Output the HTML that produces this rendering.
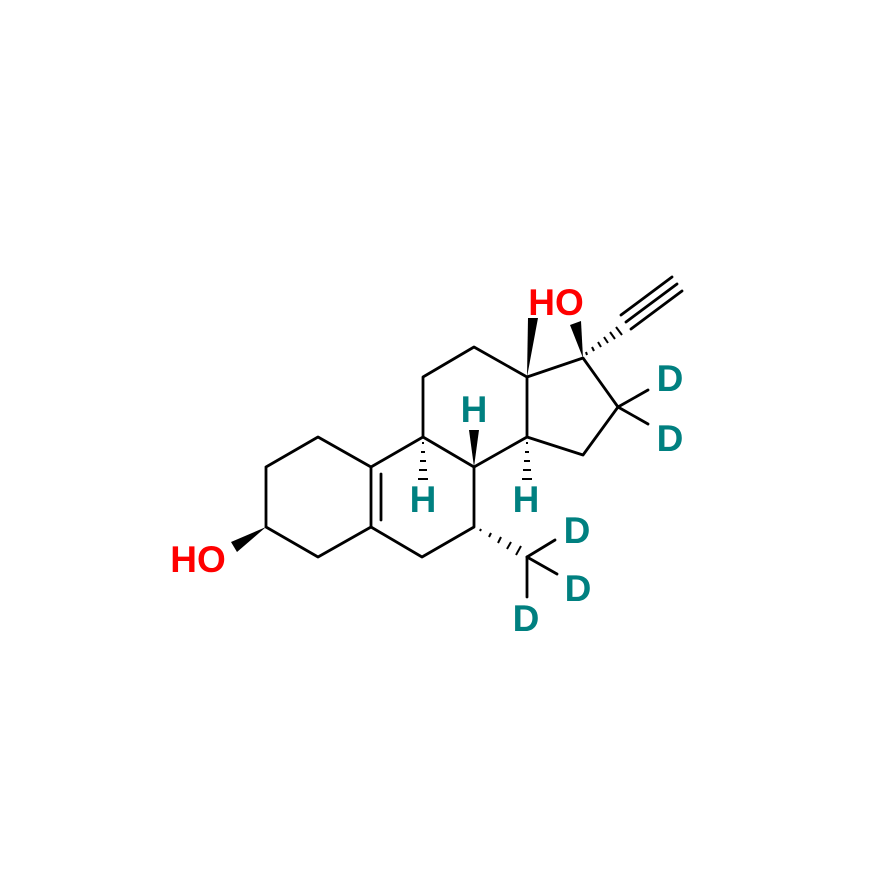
<!DOCTYPE html>
<html><head><style>body{margin:0;background:#fff} text{font-family:"Liberation Sans",Arial,sans-serif;font-weight:bold}</style></head><body>
<svg width="873" height="872" viewBox="0 0 873 872" xmlns="http://www.w3.org/2000/svg">
<rect width="873" height="872" fill="#fff"/>
<g stroke="#000" stroke-width="2.8" fill="none" stroke-linecap="round" stroke-linejoin="round">
<polyline points="266,467 318,437 371,467 371,527 318,557 266,527 266,467"/>
<line x1="381" y1="474" x2="381" y2="520"/>
<polyline points="371,467 423,437 474,467 474,527 422,557 371,527"/>
<polyline points="423,437 423,377 474,347 527,377 527,437 474,467"/>
<polyline points="527,377 583,358 618,407 583,455 527,437"/>
<line x1="618" y1="407" x2="648" y2="390"/>
<line x1="618" y1="407" x2="648" y2="424"/>
<line x1="527" y1="557" x2="555" y2="540"/>
<line x1="527" y1="557" x2="557" y2="574"/>
<line x1="527" y1="557" x2="527" y2="597"/>
<line x1="626" y1="322" x2="677" y2="284"/>
<line x1="621" y1="315" x2="672" y2="277"/>
<line x1="631" y1="329" x2="682" y2="291"/>
</g>
<g fill="#000">
<polygon points="266,527 231,542 237,552"/>
<polygon points="527,377 528,318 538,318"/>
<polygon points="583,358 570,325 581,321"/>
<polygon points="474,467 469,430 479,430"/>
</g>
<g stroke="#000" stroke-width="2">
<line x1="586" y1="352" x2="587" y2="355"/><line x1="592" y1="347" x2="594" y2="351"/><line x1="598" y1="342" x2="601" y2="347"/><line x1="604" y1="337" x2="608" y2="343"/><line x1="610" y1="332" x2="615" y2="339"/><line x1="616" y1="327" x2="622" y2="335"/>
<line x1="422" y1="443" x2="424" y2="443"/><line x1="421" y1="452" x2="425" y2="452"/><line x1="420" y1="461" x2="426" y2="461"/><line x1="419" y1="470" x2="427" y2="470"/><line x1="418" y1="479" x2="428" y2="479"/>
<line x1="526" y1="443" x2="528" y2="443"/><line x1="525" y1="452" x2="529" y2="452"/><line x1="524" y1="461" x2="530" y2="461"/><line x1="523" y1="470" x2="531" y2="470"/><line x1="522" y1="479" x2="532" y2="479"/>
<line x1="480" y1="531" x2="481" y2="529"/><line x1="489" y1="537" x2="491" y2="533"/><line x1="498" y1="543" x2="501" y2="537"/><line x1="507" y1="549" x2="511" y2="542"/><line x1="516" y1="555" x2="521" y2="546"/>
</g>
<g font-size="37" text-anchor="middle">
<text x="198" y="572" fill="#f00">HO</text>
<text x="556" y="315" fill="#f00">HO</text>
<g fill="#008080">
<text x="670" y="391">D</text>
<text x="670" y="451">D</text>
<text x="577" y="543">D</text>
<text x="578" y="601">D</text>
<text x="526" y="631">D</text>
<text x="474" y="422">H</text>
<text x="423" y="512">H</text>
<text x="526" y="512">H</text>
</g></g>
</svg>
</body></html>
